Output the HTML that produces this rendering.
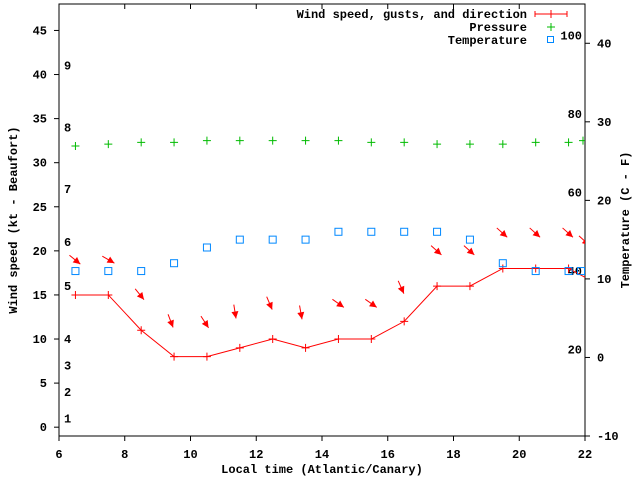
<!DOCTYPE html>
<html><head><meta charset="utf-8"><style>
body{margin:0;background:#fff}
text{font-family:"Liberation Mono",monospace;font-weight:bold;font-size:12px;fill:#000}
</style></head><body>
<svg id="c" width="640" height="480" xmlns="http://www.w3.org/2000/svg"></svg>
<script>
const hours=[6.5,7.5,8.5,9.5,10.5,11.5,12.5,13.5,14.5,15.5,16.5,17.5,18.5,19.5,20.5,21.5,22];
const wind=[15,15,11,8,8,9,10,9,10,10,12,16,16,18,18,18,17];
const pressure=[31.9,32.1,32.3,32.3,32.5,32.5,32.5,32.5,32.5,32.3,32.3,32.1,32.1,32.1,32.3,32.3,32.5];
const temp=[11,11,11,12,14,15,15,15,16,16,16,16,15,12,11,11,11];
const arrowY=[19.5,19.4,15.7,12.8,12.6,13.9,14.8,13.8,14.5,14.5,16.6,20.6,20.6,22.6,22.6,22.6,21.7];
const arrowDir=[39,30,51,69,57,81,67,80,35,35,66,42,42,42,42,42,42];
const xTicks=[6,8,10,12,14,16,18,20,22];
const yTicks=[0,5,10,15,20,25,30,35,40,45];
const y2Ticks=[-10,0,10,20,30,40];
const beaufort=[[1,1],[2,4],[3,7],[4,10],[5,16],[6,21],[7,27],[8,34],[9,41]];
const pLabels=[[100,41],[80,31],[60,21],[40,11],[20,1]];
const L=59,R=585,T=4,B=436;
const X=v=>L+(v-6)/16*(R-L);
const Y=v=>B-(v+1)/49*(B-T);
const Y2=v=>B-(v+10)/55*(B-T);
const s=document.getElementById('c');const NS='http://www.w3.org/2000/svg';
function el(t,a,p){const e=document.createElementNS(NS,t);for(const k in a)e.setAttribute(k,a[k]);(p||s).appendChild(e);return e;}
const clip=el('clipPath',{id:'cp'});el('rect',{x:L,y:T,width:R-L,height:B-T},clip);
const frame=el('rect',{x:L,y:T,width:R-L,height:B-T,fill:'none',stroke:'#000','stroke-width':1});


xTicks.forEach(v=>{const x=X(v);el('line',{x1:x,x2:x,y1:B,y2:B+5,stroke:'#000'});el('line',{x1:x,x2:x,y1:T,y2:T+5,stroke:'#000'});
const t=el('text',{x:x,y:B+22,'text-anchor':'middle'});t.textContent=v;

});
yTicks.forEach(v=>{const y=Y(v);el('line',{x1:L-5,x2:L,y1:y,y2:y,stroke:'#000'});
const t=el('text',{x:47,y:y+4,'text-anchor':'end'});t.textContent=v;

});
y2Ticks.forEach(v=>{const y=Y2(v);el('line',{x1:R,x2:R+5,y1:y,y2:y,stroke:'#000'});
const t=el('text',{x:597,y:y+4});t.textContent=v;

});
beaufort.forEach(b=>{const t=el('text',{x:64,y:Y(b[1])+4});t.textContent=b[0];

});
pLabels.forEach(b=>{const t=el('text',{x:582,y:Y2(b[1])+4,'text-anchor':'end'});t.textContent=b[0];

});
const g=el('g',{'clip-path':'url(#cp)'});
const wl=el('polyline',{points:hours.map((h,i)=>X(h)+','+Y(wind[i])).join(' '),fill:'none',stroke:'#f00'},g);


hours.forEach((h,i)=>{if(i==hours.length-1)return;const x=X(h),y=Y(wind[i]);
const m=el('path',{d:`M${x-4} ${y}h8M${x} ${y-4}v8`,stroke:'#f00'},g);


const p=el('path',{d:`M${x-4} ${Y(pressure[i])}h8M${x} ${Y(pressure[i])-4}v8`,stroke:'#0b0'},g);

});
{const i=hours.length-1;const x=X(hours[i])-2;const p=el('path',{d:`M${x-4} ${Y(pressure[i])}h8M${x} ${Y(pressure[i])-4}v8`,stroke:'#0b0'},g);

}
hours.forEach((h,i)=>{const x=i==hours.length-1?X(h)-4:X(h);const r=el('rect',{x:x-3.5,y:Y2(temp[i])-3.5,width:7,height:7,fill:'none',stroke:'#08f'},g);

});
hours.forEach((h,i)=>{const x0=X(h)-6,y0=Y(arrowY[i]);const a=arrowDir[i]*Math.PI/180;
const x1=x0+14*Math.cos(a),y1=y0+14*Math.sin(a);
const hx=-Math.cos(a),hy=-Math.sin(a);const px=-hy,py=hx;
const ar=el('g',{},g);


el('line',{x1:x0,y1:y0,x2:x1,y2:y1,stroke:'#f00'},ar);
el('polygon',{points:`${x1},${y1} ${x1+7*hx+3.5*px},${y1+7*hy+3.5*py} ${x1+7*hx-3.5*px},${y1+7*hy-3.5*py}`,fill:'#f00'},ar);});
const lg=el('g',{});
[['Wind speed, gusts, and direction',14],['Pressure',27],['Temperature',40]].forEach(a=>{const t=el('text',{x:527,y:a[1]+4,'text-anchor':'end'},lg);t.textContent=a[0];});
el('path',{d:'M535 14h32M535 11v6M567 11v6M551 10v8',stroke:'#f00'},lg);
el('path',{d:'M547 27h8M551 23v8',stroke:'#0b0'},lg);
el('rect',{x:547.5,y:36.5,width:6,height:6,fill:'none',stroke:'#08f'},lg);
const xt=el('text',{x:322,y:473,'text-anchor':'middle'});xt.textContent='Local time (Atlantic/Canary)';

const yt=el('text',{x:0,y:0,'text-anchor':'middle',transform:'translate(17,220) rotate(-90)'});yt.textContent='Wind speed (kt - Beaufort)';

const y2t=el('text',{x:0,y:0,'text-anchor':'middle',transform:'translate(629,220) rotate(-90)'});y2t.textContent='Temperature (C - F)';

</script>
</body></html>
